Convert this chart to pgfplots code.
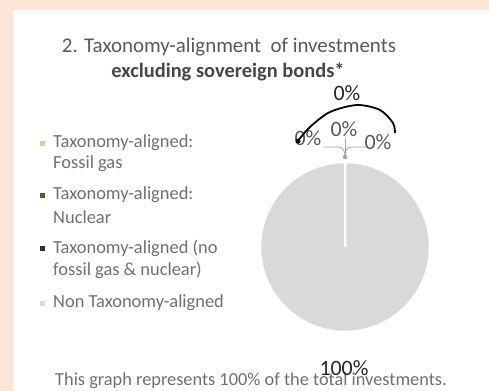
\documentclass[border=0pt]{standalone}
\usepackage{pgfplots}
\pgfplotsset{compat=1.18}
\usepackage{pgfplotstable}
\usepackage{fontspec}
\setmainfont{Carlito}
\definecolor{peach}{HTML}{FCE4D6}
\definecolor{fossil}{HTML}{C4D79B}
\definecolor{nuclear}{HTML}{4F6228}
\definecolor{otheral}{HTML}{303030}
\definecolor{nonal}{HTML}{D9D9D9}
\definecolor{txt}{HTML}{707070}
\definecolor{ttl}{HTML}{595959}
\definecolor{lead}{HTML}{A6A6A6}

\pgfplotstableread{
label value
fossil 0
nuclear 0
other 0
non 100
}\piedata

\begin{document}
\begin{tikzpicture}
\pgfplotstablegetelem{0}{value}\of\piedata \edef\vfos{\pgfplotsretval}
\pgfplotstablegetelem{1}{value}\of\piedata \edef\vnuc{\pgfplotsretval}
\pgfplotstablegetelem{2}{value}\of\piedata \edef\voth{\pgfplotsretval}
\pgfplotstablegetelem{3}{value}\of\piedata \edef\vnon{\pgfplotsretval}
\begin{axis}[
  scale only axis, width=489bp, height=391bp,
  xmin=0, xmax=489, ymin=0, ymax=391, y dir=reverse,
  hide axis, clip=false,
]
% background
\fill[peach] (axis cs:0,0) rectangle (axis cs:489,391);
\fill[white] (axis cs:13,10) rectangle (axis cs:489,391);
% title
\node[font=\fontsize{21}{24}\selectfont, text=ttl] at (axis cs:229,47) {2. Taxonomy-alignment\ \ of investments};
\node[font=\fontsize{20.5}{24}\selectfont\bfseries, text=ttl!80!black] at (axis cs:228,72) {excluding sovereign bonds*};
% pie slices (clockwise from top)
\pgfmathsetmacro\aA{90}
\pgfmathsetmacro\aB{\aA-3.6*\vfos}
\pgfmathsetmacro\aC{\aB-3.6*\vnuc}
\pgfmathsetmacro\aD{\aC-3.6*\voth}
\pgfmathsetmacro\aE{\aD-3.6*\vnon}
\fill[nonal, draw=white, line width=2.5bp] (axis cs:345,247) -- ++(\aD:85bp) arc[start angle=\aD, end angle=\aE, radius=85bp] -- cycle;
% leader lines
\draw[lead, line width=0.8bp] (axis cs:323,147) -- (axis cs:339,147) to[out=0,in=90] (axis cs:345,157);
\draw[lead, line width=0.8bp] (axis cs:345,138) -- (axis cs:345,157);
\draw[lead, line width=0.8bp] (axis cs:366,147) -- (axis cs:351,147) to[out=180,in=90] (axis cs:345,157);
\fill[lead] (axis cs:345,157) circle[radius=2.2bp];
% data labels
\node[font=\fontsize{22}{26}\selectfont, text=ttl] at (axis cs:308,138) {0\%};
\node[font=\fontsize{22}{26}\selectfont, text=ttl] at (axis cs:344,129) {0\%};
\node[font=\fontsize{22}{26}\selectfont, text=ttl] at (axis cs:378,142) {0\%};
\node[font=\fontsize{22}{26}\selectfont, text=black!85] at (axis cs:347,93) {0\%};
% hand-drawn arc annotation
\addplot[smooth, black, line width=1.8bp] coordinates {(297,142) (310,127) (330,112) (357,105) (380,110) (393,123) (395,133)};
\fill[black] (axis cs:298,141) circle[radius=2.5bp];
% legend
\fill[fossil] (axis cs:39.5,140.5) rectangle (axis cs:44.5,145.5);
\fill[nuclear] (axis cs:39.5,192.5) rectangle (axis cs:44.5,197.5);
\fill[otheral] (axis cs:39.5,245.5) rectangle (axis cs:44.5,250.5);
\fill[nonal] (axis cs:39.5,300.5) rectangle (axis cs:44.5,305.5);
\tikzset{lg/.style={anchor=west, inner sep=0pt, font=\fontsize{18.5}{21}\selectfont, text=txt}}
\node[lg] at (axis cs:53,143) {Taxonomy-aligned:};
\node[lg] at (axis cs:53,164) {Fossil gas};
\node[lg] at (axis cs:53,195) {Taxonomy-aligned:};
\node[lg] at (axis cs:53,217) {Nuclear};
\node[lg] at (axis cs:53,248) {Taxonomy-aligned (no};
\node[lg] at (axis cs:53,270) {fossil gas \& nuclear)};
\node[lg] at (axis cs:53,303) {Non Taxonomy-aligned};
% footer
\node[anchor=west, inner sep=0pt, font=\fontsize{18.4}{21}\selectfont, text=txt] at (axis cs:55,381) {This graph represents 100\% of the total investments.};
\node[font=\fontsize{22}{26}\selectfont, text=black!85] at (axis cs:344,368) {100\%};
\end{axis}
\end{tikzpicture}
\end{document}
